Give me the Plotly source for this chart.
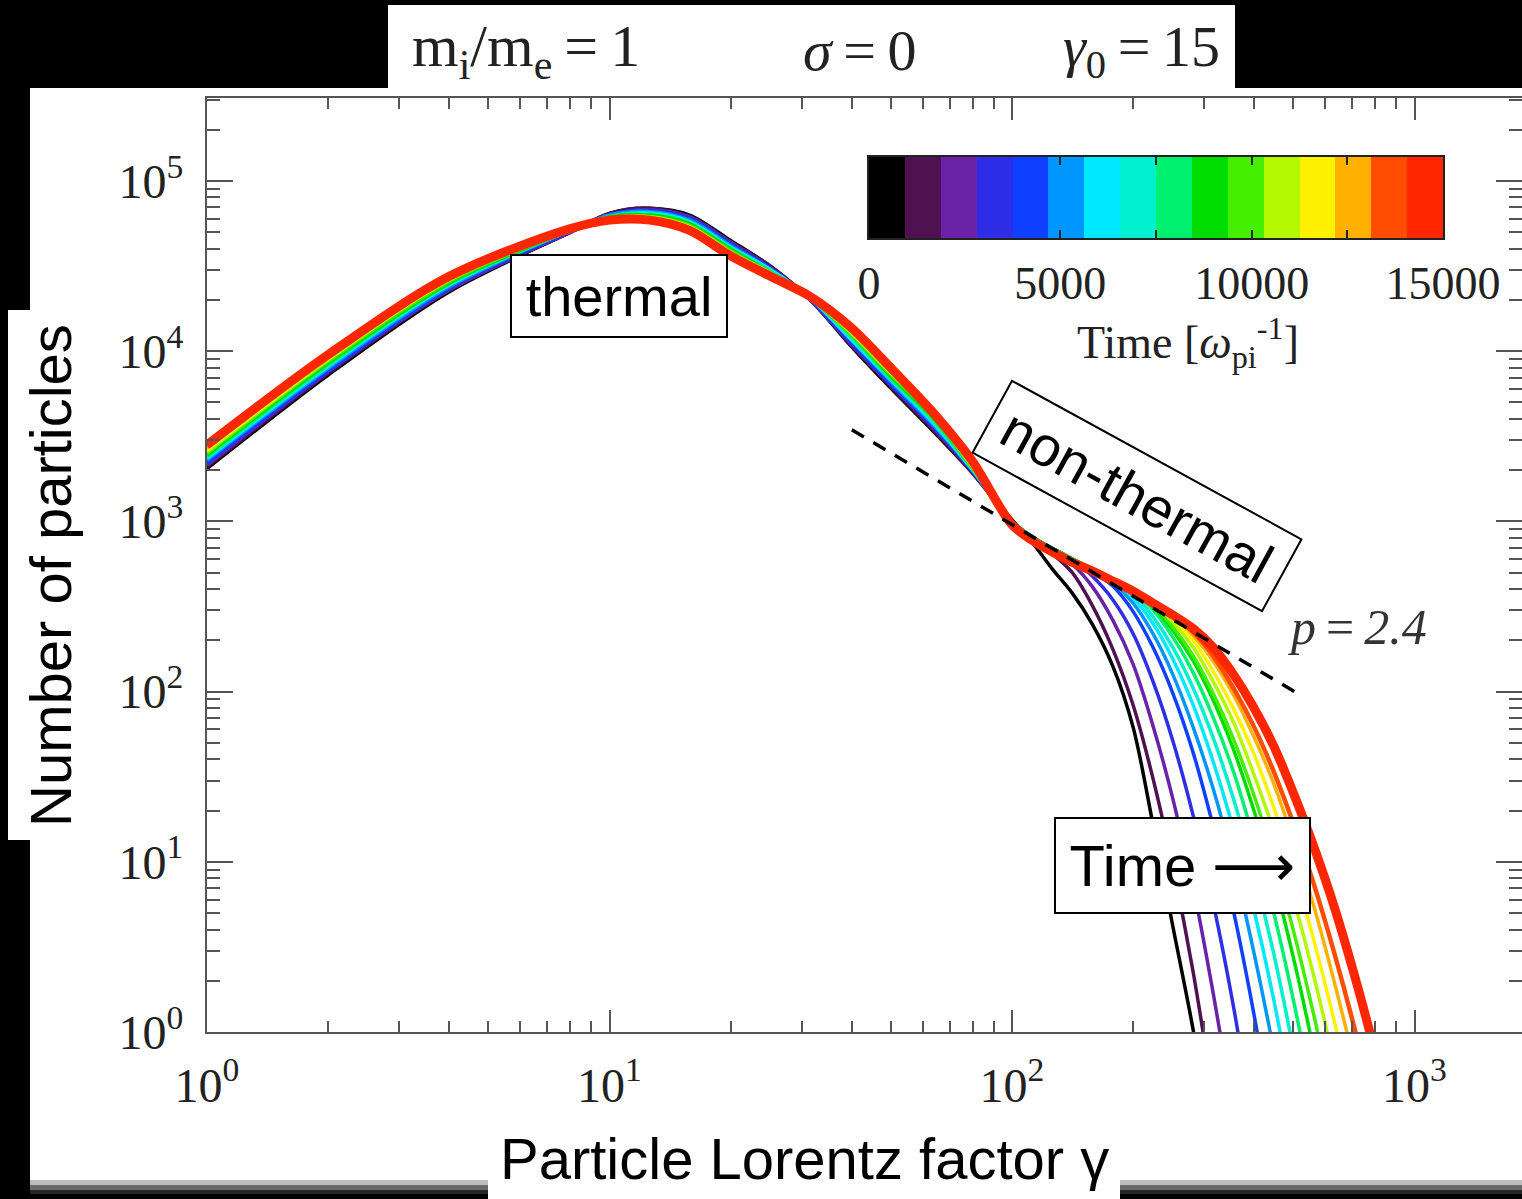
import numpy as np
import plotly.graph_objects as go

# ---------------- data ----------------
# Lorentz factor grid (shared by all spectra)
gamma = [1, 2, 4, 8, 10, 12.6, 15.8, 20, 25.1, 31.6, 39.8, 50.1, 63.1, 79.4,
         100, 112, 126, 141, 158, 178, 200, 224, 251, 282, 316, 355, 398, 447,
         501, 562, 631, 708, 794, 891]

# snapshot times [1/omega_pi]
times = [0, 1000, 2000, 3000, 4000, 5000, 6000, 7000, 8000, 9000, 10000,
         11000, 12000, 13000, 14000, 15000]

# log10(number of particles) of each snapshot, on the gamma grid
log10_counts_t00000 = [3.31, 3.86, 4.35, 4.70, 4.81, 4.84, 4.80, 4.65, 4.50, 4.30, 4.03, 3.78, 3.54, 3.29,
                       3.01, 2.88, 2.72, 2.58, 2.40, 2.15, 1.79, 1.22, 0.62, 0.01, -0.70]
log10_counts_t01000 = [3.32, 3.87, 4.36, 4.70, 4.81, 4.84, 4.79, 4.64, 4.50, 4.30, 4.04, 3.79, 3.55, 3.29,
                       3.00, 2.90, 2.81, 2.70, 2.51, 2.25, 1.92, 1.49, 0.97, 0.35, -0.38]
log10_counts_t02000 = [3.33, 3.88, 4.36, 4.70, 4.80, 4.83, 4.79, 4.64, 4.49, 4.30, 4.04, 3.80, 3.56, 3.30,
                       3.00, 2.91, 2.83, 2.75, 2.62, 2.42, 2.16, 1.80, 1.37, 0.85, 0.23, -0.48]
log10_counts_t03000 = [3.34, 3.88, 4.37, 4.70, 4.80, 4.83, 4.78, 4.63, 4.49, 4.30, 4.05, 3.80, 3.57, 3.30,
                       3.00, 2.91, 2.84, 2.78, 2.68, 2.54, 2.34, 2.06, 1.71, 1.27, 0.76, 0.15, -0.56]
log10_counts_t04000 = [3.35, 3.89, 4.37, 4.71, 4.80, 4.82, 4.78, 4.63, 4.48, 4.31, 4.06, 3.81, 3.57, 3.30,
                       3.00, 2.91, 2.84, 2.78, 2.71, 2.62, 2.47, 2.26, 1.99, 1.64, 1.21, 0.71, 0.12, -0.57]
log10_counts_t05000 = [3.36, 3.90, 4.38, 4.71, 4.80, 4.82, 4.77, 4.62, 4.48, 4.31, 4.07, 3.82, 3.58, 3.31,
                       3.00, 2.91, 2.84, 2.78, 2.72, 2.64, 2.52, 2.34, 2.10, 1.79, 1.43, 0.99, 0.48, -0.11, -0.78]
log10_counts_t06000 = [3.37, 3.91, 4.39, 4.71, 4.79, 4.81, 4.76, 4.61, 4.48, 4.31, 4.07, 3.83, 3.59, 3.31,
                       3.00, 2.91, 2.84, 2.78, 2.72, 2.65, 2.55, 2.40, 2.19, 1.92, 1.59, 1.19, 0.73, 0.19, -0.43]
log10_counts_t07000 = [3.38, 3.92, 4.39, 4.71, 4.79, 4.81, 4.76, 4.61, 4.47, 4.31, 4.08, 3.84, 3.60, 3.31,
                       3.00, 2.91, 2.84, 2.78, 2.72, 2.66, 2.58, 2.44, 2.26, 2.02, 1.73, 1.37, 0.95, 0.46, -0.11, -0.74]
log10_counts_t08000 = [3.38, 3.92, 4.40, 4.71, 4.79, 4.80, 4.75, 4.60, 4.47, 4.31, 4.09, 3.84, 3.61, 3.32,
                       3.00, 2.91, 2.84, 2.78, 2.72, 2.66, 2.59, 2.48, 2.32, 2.11, 1.85, 1.53, 1.14, 0.70, 0.18, -0.41]
log10_counts_t09000 = [3.39, 3.93, 4.40, 4.71, 4.79, 4.80, 4.75, 4.60, 4.46, 4.31, 4.10, 3.85, 3.62, 3.32,
                       3.00, 2.91, 2.84, 2.78, 2.72, 2.66, 2.60, 2.50, 2.36, 2.18, 1.95, 1.66, 1.31, 0.90, 0.43, -0.11, -0.72]
log10_counts_t10000 = [3.40, 3.94, 4.41, 4.71, 4.78, 4.79, 4.74, 4.59, 4.46, 4.31, 4.10, 3.86, 3.63, 3.32,
                       2.99, 2.90, 2.83, 2.77, 2.71, 2.65, 2.59, 2.51, 2.38, 2.21, 1.99, 1.72, 1.40, 1.02, 0.59, 0.10, -0.44]
log10_counts_t11000 = [3.41, 3.95, 4.42, 4.71, 4.78, 4.79, 4.73, 4.58, 4.46, 4.31, 4.11, 3.87, 3.64, 3.33,
                       2.99, 2.90, 2.83, 2.77, 2.71, 2.65, 2.59, 2.52, 2.41, 2.26, 2.06, 1.82, 1.52, 1.18, 0.78, 0.33, -0.18, -0.74]
log10_counts_t12000 = [3.42, 3.96, 4.42, 4.72, 4.78, 4.78, 4.73, 4.58, 4.45, 4.32, 4.12, 3.88, 3.64, 3.33,
                       2.99, 2.90, 2.83, 2.77, 2.71, 2.65, 2.59, 2.52, 2.43, 2.30, 2.12, 1.90, 1.64, 1.32, 0.96, 0.54, 0.07, -0.45]
log10_counts_t13000 = [3.43, 3.96, 4.43, 4.72, 4.78, 4.78, 4.72, 4.57, 4.45, 4.32, 4.13, 3.88, 3.65, 3.34,
                       2.99, 2.89, 2.82, 2.76, 2.71, 2.65, 2.59, 2.52, 2.45, 2.33, 2.18, 1.98, 1.74, 1.46, 1.12, 0.74, 0.30, -0.18, -0.72]
log10_counts_t14000 = [3.44, 3.97, 4.43, 4.72, 4.77, 4.77, 4.72, 4.57, 4.44, 4.32, 4.13, 3.89, 3.65, 3.35,
                       2.98, 2.89, 2.82, 2.76, 2.71, 2.65, 2.59, 2.52, 2.45, 2.35, 2.21, 2.02, 1.80, 1.53, 1.22, 0.87, 0.47, 0.03, -0.46]
log10_counts_t15000 = [3.45, 3.98, 4.44, 4.72, 4.77, 4.77, 4.71, 4.56, 4.44, 4.32, 4.14, 3.90, 3.65, 3.36,
                       2.98, 2.89, 2.82, 2.76, 2.71, 2.65, 2.59, 2.52, 2.45, 2.37, 2.26, 2.10, 1.91, 1.68, 1.40, 1.09, 0.74, 0.34, -0.10, -0.58]

spectra = [log10_counts_t00000, log10_counts_t01000, log10_counts_t02000, log10_counts_t03000,
           log10_counts_t04000, log10_counts_t05000, log10_counts_t06000, log10_counts_t07000,
           log10_counts_t08000, log10_counts_t09000, log10_counts_t10000, log10_counts_t11000,
           log10_counts_t12000, log10_counts_t13000, log10_counts_t14000, log10_counts_t15000]

# colour of each time bin (colour bar)
time_colors = ["#000000", "#4f1150", "#6a22a8", "#2e2ee6", "#1040ff", "#0096ff",
               "#00e8ff", "#00f0d0", "#00f070", "#00dc00", "#44ee00", "#b4f800",
               "#fff200", "#ffb000", "#ff4c00", "#ff2600"]

# p = 2.4 power-law guide
powerlaw_gamma = [40, 530]
powerlaw_counts = [3450, 93]

x_tick_vals = [1, 10, 100, 1000]
x_tick_text = ["10<sup>0</sup>", "10<sup>1</sup>", "10<sup>2</sup>", "10<sup>3</sup>"]
y_tick_vals = [1, 10, 100, 1000, 10000, 100000]
y_tick_text = ["10<sup>0</sup>", "10<sup>1</sup>", "10<sup>2</sup>", "10<sup>3</sup>",
               "10<sup>4</sup>", "10<sup>5</sup>"]
cbar_tick_vals = [0, 5000, 7500, 10000, 12500, 15000]
cbar_tick_text = ["0", "5000", "", "10000", "", "15000"]

# ---------------- layout geometry (pixels) ----------------
W, H = 1522, 1199
PL, PR, PT, PB = 207, 1522, 98, 1032
X_DEC = 402.5   # px per decade
Y_DEC = 170.2


def fx(px):
    return (px - PL) / (PR - PL)


def fy(py):
    return (PB - py) / (PB - PT)


SERIF = "Liberation Serif"
SANS = "Liberation Sans"

fig = go.Figure()

for i, (logc, col) in enumerate(zip(spectra, time_colors)):
    n = len(logc)
    width = 9 if i == 15 else (4.5 if i == 14 else 3.5)
    fig.add_trace(go.Scatter(
        x=gamma[:n], y=10 ** np.array(logc), mode="lines",
        line=dict(color=col, width=width, shape="spline", smoothing=0.9),
        showlegend=False, hoverinfo="skip"))

fig.add_trace(go.Scatter(
    x=powerlaw_gamma, y=powerlaw_counts, mode="lines",
    line=dict(color="black", width=3.5, dash="14px,11px"),
    showlegend=False, hoverinfo="skip"))

# colour bar as a heatmap in its own small axes
edges = np.linspace(times[0], times[-1], len(times) + 1)
fig.add_trace(go.Heatmap(
    z=[times], x=edges, y=[0, 1],
    colorscale=[[k / (len(times) - 1), c] for k, c in enumerate(time_colors)],
    zmin=times[0], zmax=times[-1], showscale=False, hoverinfo="skip",
    xaxis="x2", yaxis="y2"))

minor_x = [m * 10 ** d for d in range(0, 4) for m in range(2, 10)]
minor_y = [m * 10 ** d for d in range(0, 6) for m in range(2, 10)]

axis_col = "#555555"
fig.update_layout(
    width=W, height=H, autosize=False,
    margin=dict(l=PL, r=W - PR, t=PT, b=H - PB, pad=0, autoexpand=False),
    paper_bgcolor="black", plot_bgcolor="white",
    xaxis=dict(type="log", range=[0, (PR - PL) / X_DEC], domain=[0, 1], automargin=False,
               tickvals=x_tick_vals, ticktext=x_tick_text,
               ticks="inside", ticklen=22, tickwidth=2, tickcolor=axis_col,
               showline=True, linecolor=axis_col, linewidth=2, mirror="ticks",
               minor=dict(tickvals=minor_x, ticks="inside", ticklen=11,
                          tickwidth=1.5, tickcolor=axis_col, showgrid=False),
               showgrid=False, zeroline=False, ticklabelstandoff=10,
               tickfont=dict(family=SERIF, size=48, color="#222")),
    yaxis=dict(type="log", range=[0, (PB - PT) / Y_DEC], domain=[0, 1], automargin=False,
               tickvals=y_tick_vals, ticktext=y_tick_text,
               ticks="inside", ticklen=26, tickwidth=2, tickcolor=axis_col,
               showline=True, linecolor=axis_col, linewidth=2, mirror="ticks",
               minor=dict(tickvals=minor_y, ticks="inside", ticklen=13,
                          tickwidth=1.5, tickcolor=axis_col, showgrid=False),
               showgrid=False, zeroline=False, ticklabelstandoff=12,
               tickfont=dict(family=SERIF, size=48, color="#222")),
    xaxis2=dict(domain=[fx(869), fx(1443)], anchor="y2", range=[times[0], times[-1]],
                automargin=False,
                tickvals=cbar_tick_vals, ticktext=cbar_tick_text,
                ticks="inside", ticklen=8, tickwidth=2, tickcolor="#222",
                showline=True, linecolor="#222", linewidth=2, mirror="ticks",
                showgrid=False, zeroline=False, ticklabelstandoff=4,
                tickfont=dict(family=SERIF, size=46, color="#222")),
    yaxis2=dict(domain=[fy(238), fy(157)], anchor="x2", range=[0, 1], automargin=False,
                showticklabels=False, ticks="", showline=True, linecolor="#222",
                linewidth=2, mirror=True, showgrid=False, zeroline=False),
)

# white panels on the black page
shapes = []


def white_rect(x0, y0, x1, y1, color="white"):
    shapes.append(dict(type="rect", xref="paper", yref="paper",
                       x0=fx(x0), x1=fx(x1), y0=fy(y1), y1=fy(y0),
                       fillcolor=color, line=dict(width=0), layer="below"))


white_rect(30, 88, 1522, 1180)
white_rect(30, 1180, 1522, 1185, "#bdbdbd")
white_rect(30, 1185, 1522, 1190, "#6a6a6a")
white_rect(30, 1190, 1522, 1194, "#262626")
white_rect(388, 5, 1235, 90)
white_rect(8, 310, 78, 840)
white_rect(488, 1125, 1120, 1199)
fig.update_layout(shapes=shapes)

ann = []


def text(px, py, s, size, family=SANS, color="black", **kw):
    d = dict(x=fx(px), y=fy(py), xref="paper", yref="paper", text=s,
             showarrow=False, xanchor="center", yanchor="middle",
             font=dict(family=family, size=size, color=color))
    d.update(kw)
    ann.append(d)


TS = "\u2009"  # thin space
# title parameters
text(526, 50, "m<sub>i</sub>/m<sub>e</sub>" + TS + "=" + TS + "1", 60, SERIF, "#222")
text(860, 50, "<i>σ</i>" + TS + "=" + TS + "0", 58, SERIF, "#222")
text(1141, 50, "<i>γ</i><sub>0</sub>" + TS + "=" + TS + "15", 58, SERIF, "#222")

# axis titles
text(50, 576, "Number of particles", 58, SANS, textangle=-90)
text(804, 1158, "Particle Lorentz factor γ", 58, SANS)

# colour bar title
text(1188, 342, "Time [<i>ω</i><sub>pi</sub><sup>-1</sup>]", 46, SERIF, "#222")

# power-law label
text(1357, 627, "<i>p</i>" + TS + "=" + TS + "<i>2.4</i>", 50, SERIF, "#333")

# boxed labels
text(619, 296, "thermal", 56, SANS, bgcolor="white", bordercolor="black",
     borderwidth=2, borderpad=0, width=214, height=80)
text(1137, 496, "non-thermal", 56, SANS, bgcolor="white", bordercolor="black",
     borderwidth=2, borderpad=0, width=328, height=80, textangle=28.7)
text(1182, 865, "Time <span style=\"font-family:DejaVu Sans\">⟶</span>", 58, SANS,
     bgcolor="white", bordercolor="black",
     borderwidth=2, borderpad=0, width=253, height=93)

fig.update_layout(annotations=ann)

fig.write_html(
    "out.html",
    config={"displayModeBar": False},
    post_script="document.body.style.margin='0px';document.body.style.background='black';")
